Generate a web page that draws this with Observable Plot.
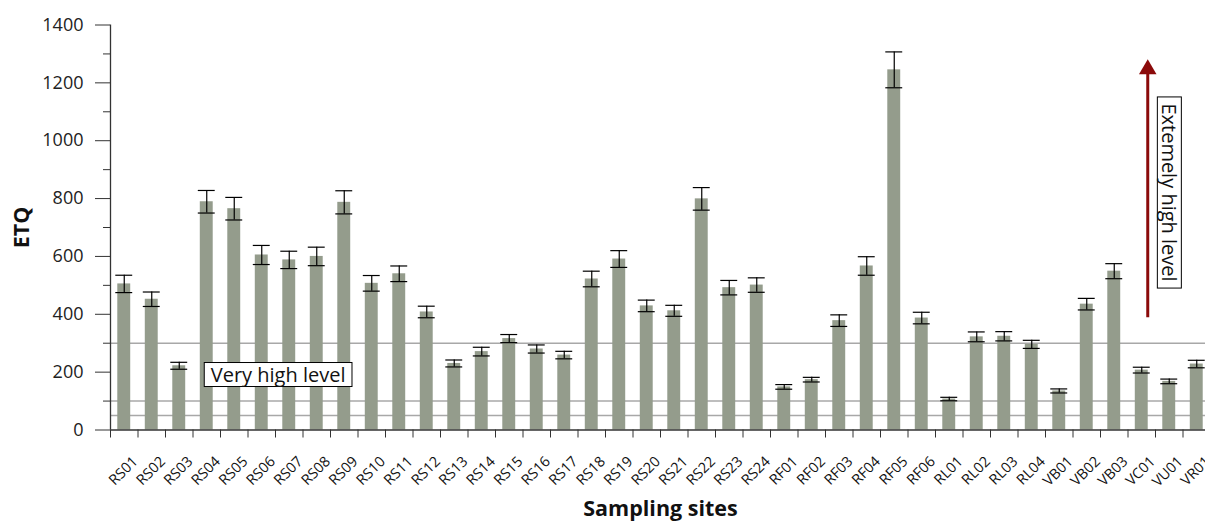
<!DOCTYPE html>
<html><head><meta charset="utf-8">
<script src="https://cdn.jsdelivr.net/npm/d3@7"></script>
<script src="https://cdn.jsdelivr.net/npm/@observablehq/plot@0.6"></script>
<style>
html,body{margin:0;padding:0;overflow:hidden;background:#fff;}
#chart svg{max-width:none !important;}
</style></head><body>
<div id="chart"></div>
<script>
const sites = ["RS01","RS02","RS03","RS04","RS05","RS06","RS07","RS08","RS09","RS10","RS11","RS12","RS13","RS14","RS15","RS16","RS17","RS18","RS19","RS20","RS21","RS22","RS23","RS24","RF01","RF02","RF03","RF04","RF05","RF06","RL01","RL02","RL03","RL04","VB01","VB02","VB03","VC01","VU01","VR01"];
const etq = [505,452,222,789,765,605,588,600,787,507,540,408,230,271,316,280,259,522,591,429,412,799,492,501,149,174,378,567,1245,387,107,322,324,296,135,435,549,207,168,228];
const sd = [30,25,12,39,39,33,30,32,40,27,27,20,12,15,14,14,13,27,29,20,19,39,25,25,8,8,20,32,62,20,6,17,16,14,7,20,26,10,8,13];
const thresholds = [50,100,300];
const yTicks = [0,200,400,600,800,1000,1200,1400];
const yMinorTicks = [100,300,500,700,900,1100,1300];
const noteText = ["Very high level"];
const noteSite = ["RS04"];
const noteY = [188];
const vNoteText = ["Extemely high level"];
const vNoteSite = ["VU01"];
const vNoteY = [821];
const arrowSite = ["VC01"];
const arrowFrom = [388];
const arrowTo = [1235];
const arrowTip = [1247];

const data = sites.map((s,i)=>({site:s, v:etq[i], lo:etq[i]-sd[i], hi:etq[i]+sd[i]}));
const arrowData = arrowSite.map((s,i)=>({site:s, from:arrowFrom[i], to:arrowTo[i], tip:arrowTip[i]}));

const W = 1215, H = 521, ML = 110, MR = 5, MT = 24.5, MB = 91.5;
const half = (W-ML-MR)/sites.length/2;
const ink = "#222";
const red = "#8b0a0a";

const chart = Plot.plot({
  width: W, height: H,
  marginLeft: ML, marginRight: MR, marginTop: MT, marginBottom: MB,
  style: {fontFamily: "'Open Sans', sans-serif", color: ink, background: "#fff", overflow: "visible", maxWidth: "none"},
  x: {domain: sites, paddingInner: 0.53, paddingOuter: 0.265, round: false, axis: null},
  y: {domain: [0,1400], axis: null},
  marks: [
    Plot.ruleY(thresholds, {stroke: "#a8a8a8", strokeWidth: 1.4}),
    Plot.barY(data, {x:"site", y:"v", fill:"#949c8c"}),
    Plot.ruleX(data, {x:"site", y1:"lo", y2:"hi", stroke:"#000", strokeWidth:1.2}),
    Plot.tickY(data, {x:"site", y:"hi", stroke:"#000", strokeWidth:1.2, insetLeft:-2, insetRight:-2}),
    Plot.tickY(data, {x:"site", y:"lo", stroke:"#000", strokeWidth:1.2, insetLeft:-2, insetRight:-2}),
    Plot.axisY({ticks: yTicks, tickSize: 15, tickPadding: 12, fontSize: 18, tickFormat: d=>String(d), label: null, stroke: "#333"}),
    Plot.axisY({ticks: yMinorTicks, tickSize: 7, tickFormat: ()=>"", label: null, stroke: "#333"}),
    Plot.ruleX([sites[0]], {x: d=>d, y1: 0, y2: 1400, dx: -half, stroke: "#333", strokeWidth: 1.3}),
    Plot.axisX({tickSize: 8, tickFormat: ()=>"", label: null, dx: -half, stroke: "#333"}),
    Plot.axisX({tickSize: 0, tickRotate: -45, tickPadding: 29, fontSize: 14.5, label: null, dx: 11, fill: "#111"}),
    Plot.ruleY([0], {stroke: "#333", strokeWidth: 1.3}),
    Plot.text(["ETQ"], {frameAnchor: "left", textAnchor: "middle", dx: -88, rotate: -90, fontSize: 21.5, fontWeight: "bold", fill: "#111"}),
    Plot.text(["Sampling sites"], {frameAnchor: "bottom", dy: 86, fontSize: 21.5, fontWeight: "bold", fill: "#111"}),
    Plot.ruleX(arrowData, {x:"site", y1:"from", y2:"to", dx: 6, stroke: red, strokeWidth: 3}),
    Plot.dot(arrowData, {x:"site", y:"tip", dx: 6, symbol: "triangle", r: 6.5, fill: red, stroke: null}),
    Plot.text(noteText, {x: noteSite, y: noteY, text: d=>d, textAnchor: "start", dx: 4, fontSize: 20, fill: "#111"}),
    Plot.text(vNoteText, {x: vNoteSite, y: vNoteY, text: d=>d, rotate: 90, dx: -1, fontSize: 20, fill: "#111"})
  ]
});
document.getElementById("chart").append(chart);

// white boxes with a thin border behind the two annotation labels
const boxed = new Set([...noteText, ...vNoteText]);
chart.querySelectorAll("text").forEach(t => {
  if (!boxed.has(t.textContent)) return;
  const b = t.getBBox();
  const px = 6.5, py = -1.5;
  const r = document.createElementNS("http://www.w3.org/2000/svg", "rect");
  r.setAttribute("x", b.x - px);
  r.setAttribute("y", b.y - py);
  r.setAttribute("width", b.width + 2*px);
  r.setAttribute("height", b.height + 2*py);
  r.setAttribute("fill", "#fff");
  r.setAttribute("stroke", "#000");
  r.setAttribute("stroke-width", 1);
  if (t.getAttribute("transform")) r.setAttribute("transform", t.getAttribute("transform"));
  t.parentNode.insertBefore(r, t);
});
</script>
</body></html>
